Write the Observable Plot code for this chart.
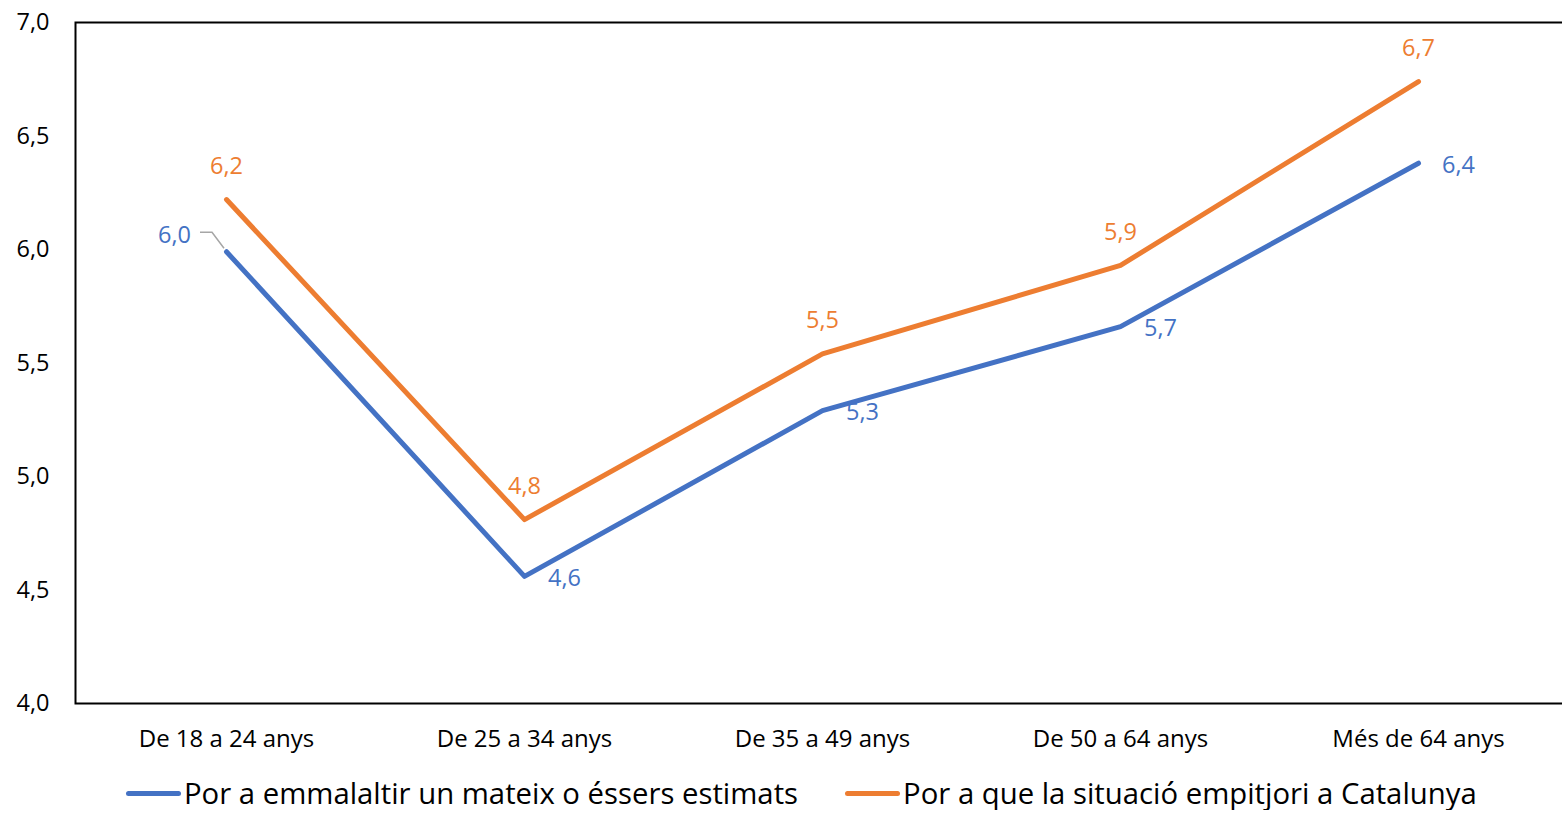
<!DOCTYPE html>
<html>
<head>
<meta charset="utf-8">
<script src="https://cdn.jsdelivr.net/npm/d3@7"></script>
<script src="https://cdn.jsdelivr.net/npm/@observablehq/plot@0.6"></script>
<style>
  html, body { margin: 0; padding: 0; background: #fff; overflow: hidden; }
  #chart svg { display: block; font-family: "Open Sans", sans-serif; }
  #legend { display: flex; align-items: center; height: 34px; padding-left: 126px;
            font-family: "Open Sans", sans-serif; font-size: 29.3px; color: #000; white-space: nowrap; }
  .item { display: flex; align-items: center; }
  .sw { width: 55px; height: 5px; border-radius: 3px; margin-right: 3px; }
</style>
</head>
<body>
<div id="chart"></div>
<div id="legend"></div>
<script>
const categories = ["De 18 a 24 anys", "De 25 a 34 anys", "De 35 a 49 anys", "De 50 a 64 anys", "Més de 64 anys"];
const seriesNames = ["Por a emmalaltir un mateix o éssers estimats", "Por a que la situació empitjori a Catalunya"];
const blueValues = [5.99, 4.56, 5.29, 5.66, 6.38];
const orangeValues = [6.22, 4.81, 5.54, 5.93, 6.74];
const yTicks = [4, 4.5, 5, 5.5, 6, 6.5, 7];
const colors = ["#4472C4", "#ED7D31"];

const fmt = v => v.toFixed(1).replace(".", ",");
const blue = categories.map((c, i) => ({cat: c, value: blueValues[i], i}));
const orange = categories.map((c, i) => ({cat: c, value: orangeValues[i], i}));

const leader = (index, scales) => {
  const x = scales.x(blue[0].cat), y = scales.y(blue[0].value);
  const g = d3.create("svg:g");
  g.append("path")
    .attr("d", `M${x - 26},${y - 19}H${x - 14}L${x - 2},${y - 3}`)
    .attr("fill", "none").attr("stroke", "#A6A6A6").attr("stroke-width", 1.5);
  return g.node();
};

const chart = Plot.plot({
  width: 1562,
  height: 776,
  marginLeft: 75,
  marginRight: -6,
  marginTop: 22,
  marginBottom: 73,
  style: {fontFamily: "Open Sans, sans-serif", fontSize: "23.5px", color: "#000", background: "#fff"},
  x: {type: "point", domain: categories, padding: 0.5, label: null},
  y: {domain: [4, 7], label: null},
  marks: [
    Plot.frame({stroke: "#000", strokeWidth: 2}),
    Plot.axisY({ticks: yTicks, tickFormat: fmt, tickSize: 0, tickPadding: 26, fontSize: 23.5}),
    Plot.axisX({tickSize: 0, tickPadding: 26, fontSize: 24}),
    leader,
    Plot.line(blue, {x: "cat", y: "value", stroke: colors[0], strokeWidth: 5, strokeLinecap: "round", strokeLinejoin: "round"}),
    Plot.line(orange, {x: "cat", y: "value", stroke: colors[1], strokeWidth: 5, strokeLinecap: "round", strokeLinejoin: "round"}),
    Plot.text(blue.filter(d => d.i === 0), {x: "cat", y: "value", text: d => fmt(d.value), dx: -52, dy: -16, fill: colors[0], fontSize: 23.5}),
    Plot.text(blue.filter(d => d.i > 0), {x: "cat", y: "value", text: d => fmt(d.value), dx: 40, dy: 2, fill: colors[0], fontSize: 23.5}),
    Plot.text(orange, {x: "cat", y: "value", text: d => fmt(d.value), dy: -33, fill: colors[1], fontSize: 23.5})
  ]
});
document.getElementById("chart").appendChild(chart);

const legend = document.getElementById("legend");
seriesNames.forEach((name, i) => {
  const item = document.createElement("div");
  item.className = "item";
  if (i > 0) item.style.marginLeft = "47px";
  const sw = document.createElement("span");
  sw.className = "sw";
  sw.style.background = colors[i];
  const t = document.createElement("span");
  t.textContent = name;
  item.appendChild(sw);
  item.appendChild(t);
  legend.appendChild(item);
});
</script>
</body>
</html>
